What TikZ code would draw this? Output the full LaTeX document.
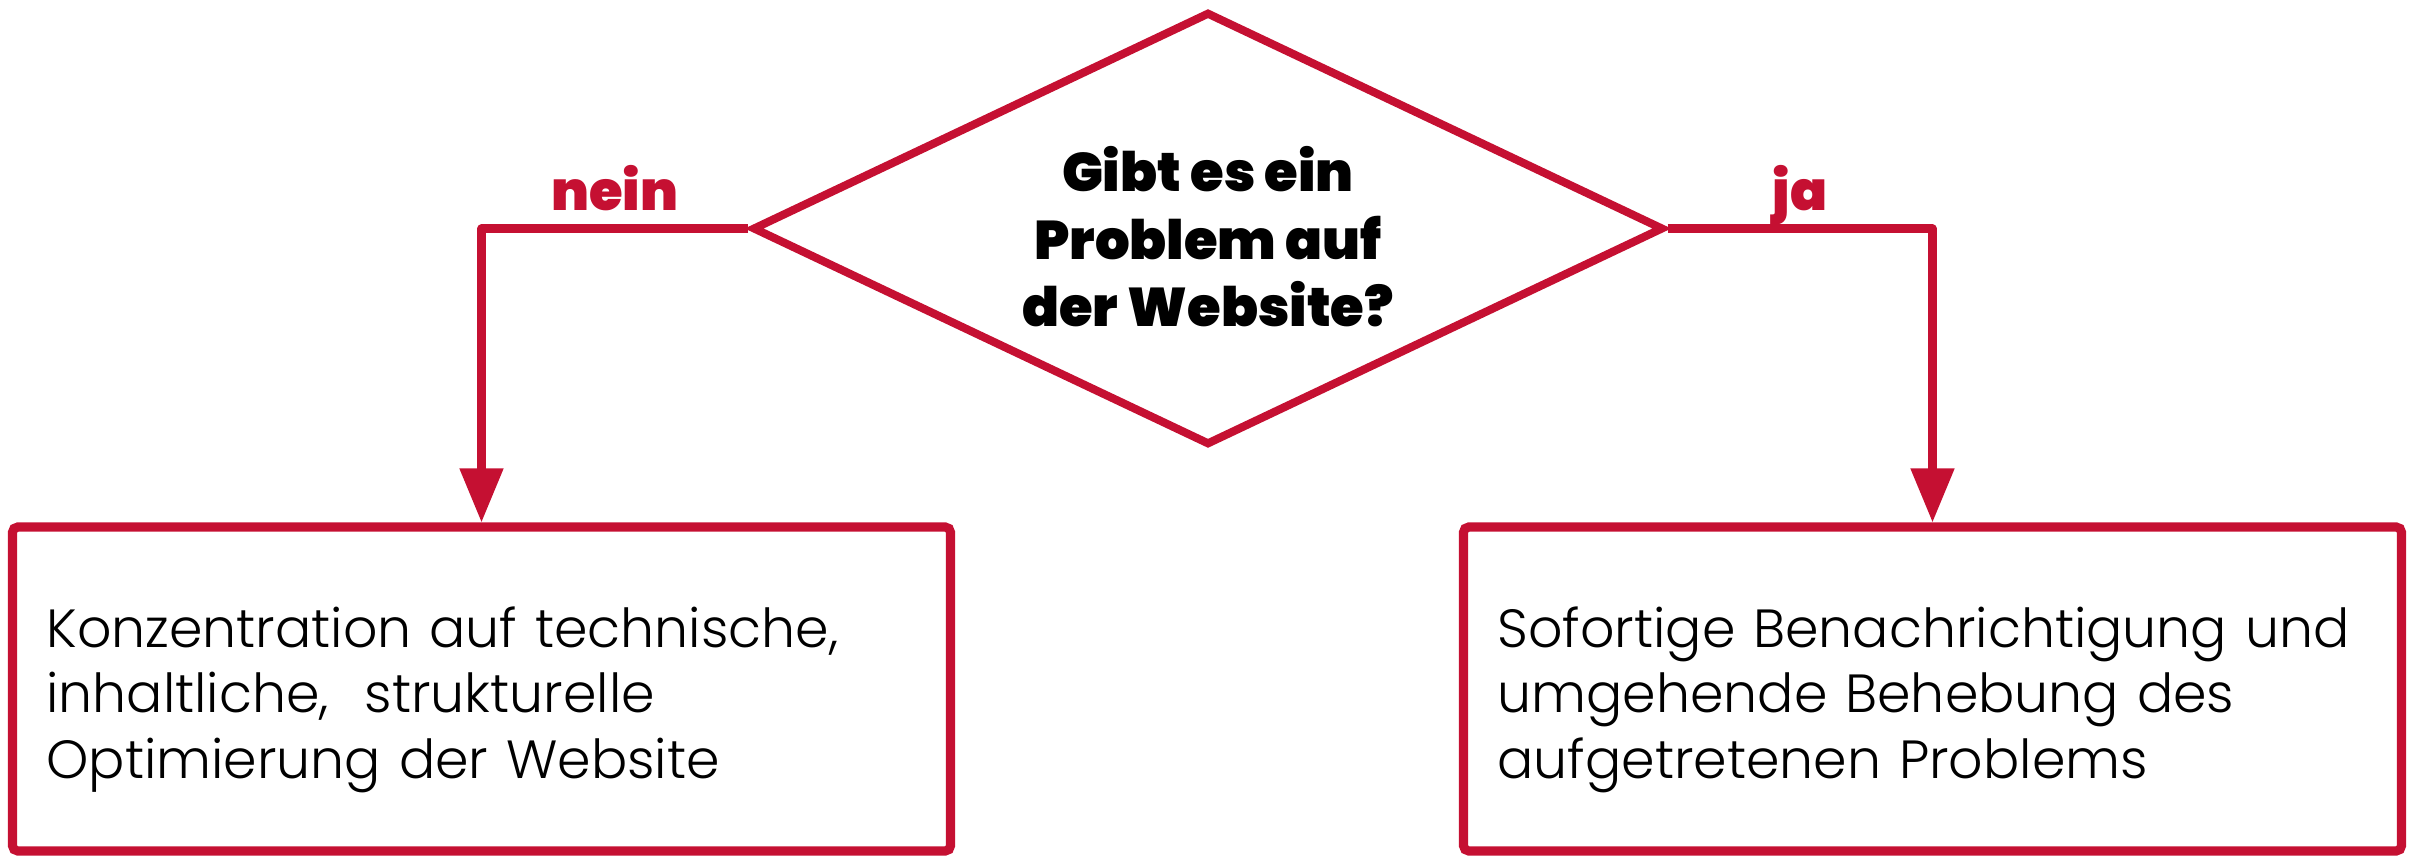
\documentclass[tikz,border=0pt]{standalone}
\usepackage{fontspec}
\newfontfamily\boxfont{Poppins Light}
\newfontfamily\askfont{Poppins Black}
\usetikzlibrary{shapes.geometric,arrows.meta}
\definecolor{signal}{RGB}{197,16,50}

\begin{document}
\begin{tikzpicture}[
  decision/.style={diamond,aspect=2.1,draw=signal,line width=2.3pt,
    minimum width=9.11cm,minimum height=4.33cm,inner sep=0pt,align=center,
    font=\askfont\fontsize{15.5}{19.2}\selectfont},
  action/.style={rectangle,draw=signal,line width=2.6pt,rounded corners=1.5pt,
    minimum width=9.38cm,minimum height=3.24cm,text width=8.7cm,inner sep=0.3cm,
    align=left,font=\boxfont\fontsize{15.3}{18.6}\selectfont},
  flow/.style={draw=signal,line width=2.3pt,line join=round,
    -{Triangle[width=0.42cm,length=0.54cm]}},
  answer/.style={text=signal,font=\askfont\fontsize{15.5}{19}\selectfont,
    text depth=0pt,inner sep=0pt,outer sep=0pt,above=0.18cm}]

\useasboundingbox (0,0) rectangle (24.16,-8.66);

% question and the two outcomes
\node[decision] (ask) at (12.08,-2.285) {\rule{0pt}{0.62cm}Gibt es ein\\Problem auf\\der Website?};
\node[action] (no) at (4.815,-6.89) {\rule{0pt}{0.62cm}Konzentration auf technische,\\
  inhaltliche,\ \ strukturelle\\Optimierung der Website};
\node[action] (yes) at (19.325,-6.89) {\rule{0pt}{0.62cm}Sofortige Benachrichtigung und\\
  umgehende Behebung des\\aufgetretenen Problems};

\draw[flow] (ask.west) -| node[answer,pos=0.25] {nein} (no.north);
\draw[flow] (ask.east) -| node[answer,pos=0.25] {ja} (yes.north);
\end{tikzpicture}
\end{document}
